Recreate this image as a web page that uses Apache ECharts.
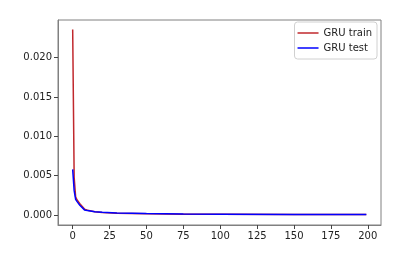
<!DOCTYPE html>
<html><head><meta charset="utf-8">
<script src="https://cdn.jsdelivr.net/npm/echarts@6/dist/echarts.min.js"></script>
<style>html,body{margin:0;padding:0;background:#fff}#c{width:409px;height:260px}</style>
</head><body><div id="c"></div>
<script>
var seriesNames = ['GRU train', 'GRU test'];
var trainEpochs = [0, 1, 2, 3, 5, 8, 10, 15, 20, 30, 50, 75, 100, 150, 199];
var trainLoss = [0.0236, 0.0048, 0.0023, 0.0019, 0.0014, 0.00075, 0.0006, 0.00042, 0.00032, 0.00024, 0.00016, 0.00011, 0.00009, 0.00007, 0.00006];
var testEpochs = [0, 1, 2, 3, 5, 8, 10, 15, 20, 30, 50, 75, 100, 150, 199];
var testLoss = [0.0058, 0.0031, 0.0020, 0.0017, 0.0012, 0.00065, 0.00056, 0.00042, 0.00034, 0.00026, 0.00018, 0.00012, 0.0001, 0.00008, 0.00007];
var xTicks = [0, 25, 50, 75, 100, 125, 150, 175, 200];
var yTicks = [0, 0.005, 0.010, 0.015, 0.020];

function pairs(xs, ys) { return xs.map(function (x, i) { return [x, ys[i]]; }); }

var chart = echarts.init(document.getElementById('c'));
var font = 'DejaVu Sans';
chart.setOption({
  animation: false,
  grid: { left: 58, right: 28, top: 20, bottom: 35, show: true, borderColor: '#808080', borderWidth: 1 },
  legend: {
    orient: 'vertical', right: 32, top: 22,
    padding: [6, 5, 6, 3], itemGap: 5, itemWidth: 21, itemHeight: 1.5, icon: 'rect',
    borderColor: '#d0d0d0', borderWidth: 1, borderRadius: 3,
    textStyle: { fontFamily: font, fontSize: 10, color: '#222' },
    data: seriesNames
  },
  xAxis: {
    type: 'value', min: -9.95, max: 208.95,
    splitLine: { show: false },
    axisLine: { show: true, onZero: false, lineStyle: { color: '#808080' } },
    axisTick: { show: true, customValues: xTicks, length: 4, lineStyle: { color: '#444' } },
    axisLabel: { customValues: xTicks, fontFamily: font, fontSize: 10, color: '#222', margin: 6 }
  },
  yAxis: {
    type: 'value', min: -0.00127, max: 0.0248,
    splitLine: { show: false },
    axisLine: { show: true, onZero: false, lineStyle: { color: '#808080' } },
    axisTick: { show: true, customValues: yTicks, length: 4, lineStyle: { color: '#444' } },
    axisLabel: { customValues: yTicks, fontFamily: font, fontSize: 10, color: '#222', margin: 6,
      formatter: function (v) { return v.toFixed(3); } }
  },
  series: [
    { name: seriesNames[0], type: 'line', data: pairs(trainEpochs, trainLoss), symbol: 'none',
      lineStyle: { color: '#c0282d', width: 1.5 }, itemStyle: { color: '#c0282d' } },
    { name: seriesNames[1], type: 'line', data: pairs(testEpochs, testLoss), symbol: 'none',
      lineStyle: { color: '#0000ff', width: 1.5 }, itemStyle: { color: '#0000ff' } }
  ]
});
</script></body></html>
